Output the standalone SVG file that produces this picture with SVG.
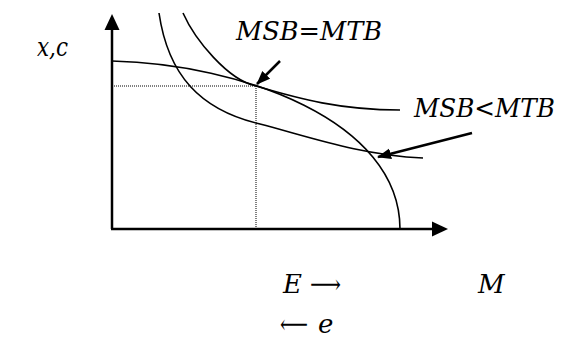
<svg xmlns="http://www.w3.org/2000/svg" width="561" height="340" viewBox="0 0 561 340">
<style>
.ax{stroke:#000;stroke-width:2.5;fill:none}
.cv{stroke:#000;stroke-width:1.6;fill:none}
.dt{stroke:#000;stroke-width:1;stroke-dasharray:1 1;fill:none}
.ar{stroke:#000;stroke-width:2.5;fill:none;marker-end:url(#ah)}
</style>
<defs>
<marker id="ah" markerUnits="userSpaceOnUse" markerWidth="14" markerHeight="12" refX="13" refY="5.5" orient="auto">
<path d="M0,0 L14,5.5 L0,11 Z" fill="#000"/>
</marker>
</defs>
<g id="axes">
<line class="ax" x1="112" y1="229" x2="112" y2="27"/>
<polygon points="112,14 104.5,30 119.5,30" fill="#000"/>
<line class="ax" x1="111" y1="229" x2="435" y2="229"/>
<polygon points="448,229 432,221.5 432,236.5" fill="#000"/>
</g>
<g id="guides">
<path class="dt" d="M112,86 H256 V229"/>
</g>
<g id="ppf">
<path class="cv" d="M112,61 C240,64 400,120 400,229"/>
</g>
<g id="ic-outer">
<path class="cv" d="M183,13 C195,40 228,80 256,86 C300,99 340,110 400,110"/>
</g>
<g id="ic-inner">
<path class="cv" d="M159,13 C168,75 200,110 260,124 C310,137 360,155 423,158"/>
</g>
<g id="connectors">
<line class="ar" x1="280" y1="61" x2="257" y2="84"/>
<line class="ar" x1="472" y1="133" x2="378" y2="157"/>
</g>
<g id="labels" font-family="'DejaVu Serif', serif" font-size="26" fill="#000">
<text x="37" y="56" font-style="italic" textLength="31" lengthAdjust="spacingAndGlyphs">x,c</text>
<text x="236" y="40" font-style="italic" textLength="146" lengthAdjust="spacingAndGlyphs">MSB=MTB</text>
<text x="414" y="117" font-style="italic" textLength="141" lengthAdjust="spacingAndGlyphs">MSB&lt;MTB</text>
<text x="283" y="293" font-style="italic">E</text>
<text x="310" y="293" textLength="31" lengthAdjust="spacingAndGlyphs">⟶</text>
<text x="478" y="293" font-style="italic">M</text>
<text x="280" y="333" textLength="28" lengthAdjust="spacingAndGlyphs">⟵</text>
<text x="318" y="333" font-style="italic">e</text>
</g>
</svg>
